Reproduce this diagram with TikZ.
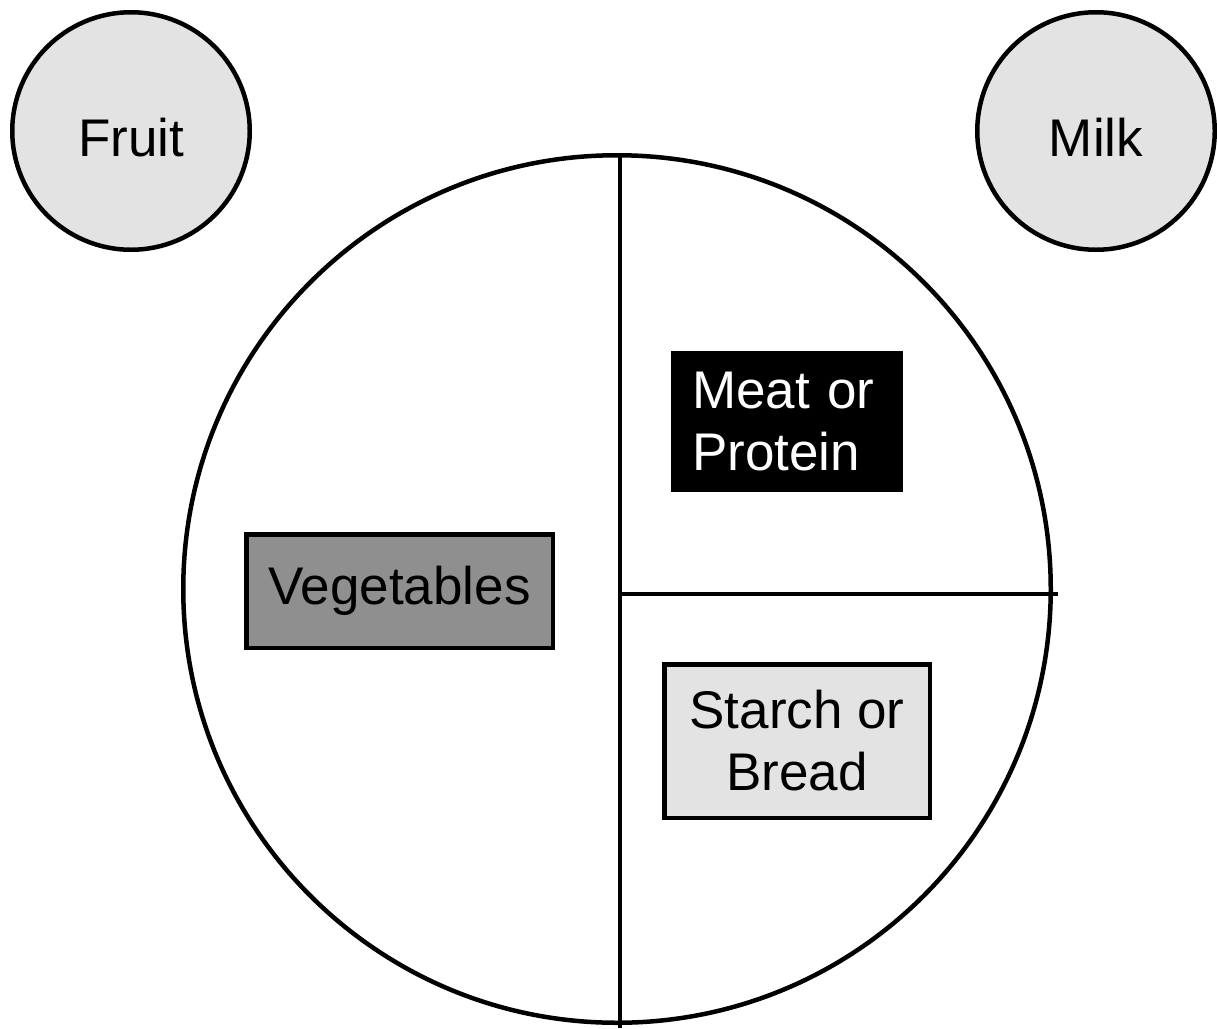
\documentclass[tikz,border=0pt]{standalone}
\usepackage{fontspec}
\setmainfont{Liberation Sans}
\usetikzlibrary{positioning,calc}
\definecolor{vegfill}{RGB}{143,143,143}
\definecolor{lightfill}{RGB}{227,227,227}

\begin{document}
\begin{tikzpicture}[x=1pt, y=-1pt,
    plate/.style={draw, circle, line width=4.5pt, inner sep=0pt, minimum size=867.5pt},
    cup/.style={draw, circle, line width=4.5pt, fill=lightfill, inner sep=0pt, minimum size=237.5pt, text height=51pt, font=\fontsize{53}{62}\selectfont},
    box/.style={draw, line width=4.5pt, inner sep=0pt, align=center, font=\fontsize{53}{62}\selectfont}]
  \useasboundingbox (0,0) rectangle (1217,1028);

  % Side dishes
  \node[cup] (fruit) at (131,131) {Fruit};
  \node[cup] (milk) at (1096,131) {Milk};

  % Plate and its dividers
  \node[plate] (plate) at (617,589) {};
  \coordinate (top) at (620,155);
  \coordinate (bottom) at (620,1028);
  \coordinate (mid) at (620,594);
  \coordinate (rim) at (1058,594);
  \draw[line width=4.5pt] (top) -- (bottom);
  \draw[line width=4.5pt] (mid) -- (rim);

  % Food groups
  \node[box, fill=vegfill, minimum width=306.5pt, minimum height=113.5pt] (vegetables) at (399.5,591) {Vegetables};
  \node[box, fill=black, draw=none, text=white, align=left, text width=190pt, inner xsep=21pt, minimum height=141pt] (meat) at (787,421.5) {Meat or\\Protein};
  \node[box, fill=lightfill, minimum width=265.5pt, minimum height=153.5pt] (starch) at (797,741) {Starch or\\Bread};
\end{tikzpicture}
\end{document}
